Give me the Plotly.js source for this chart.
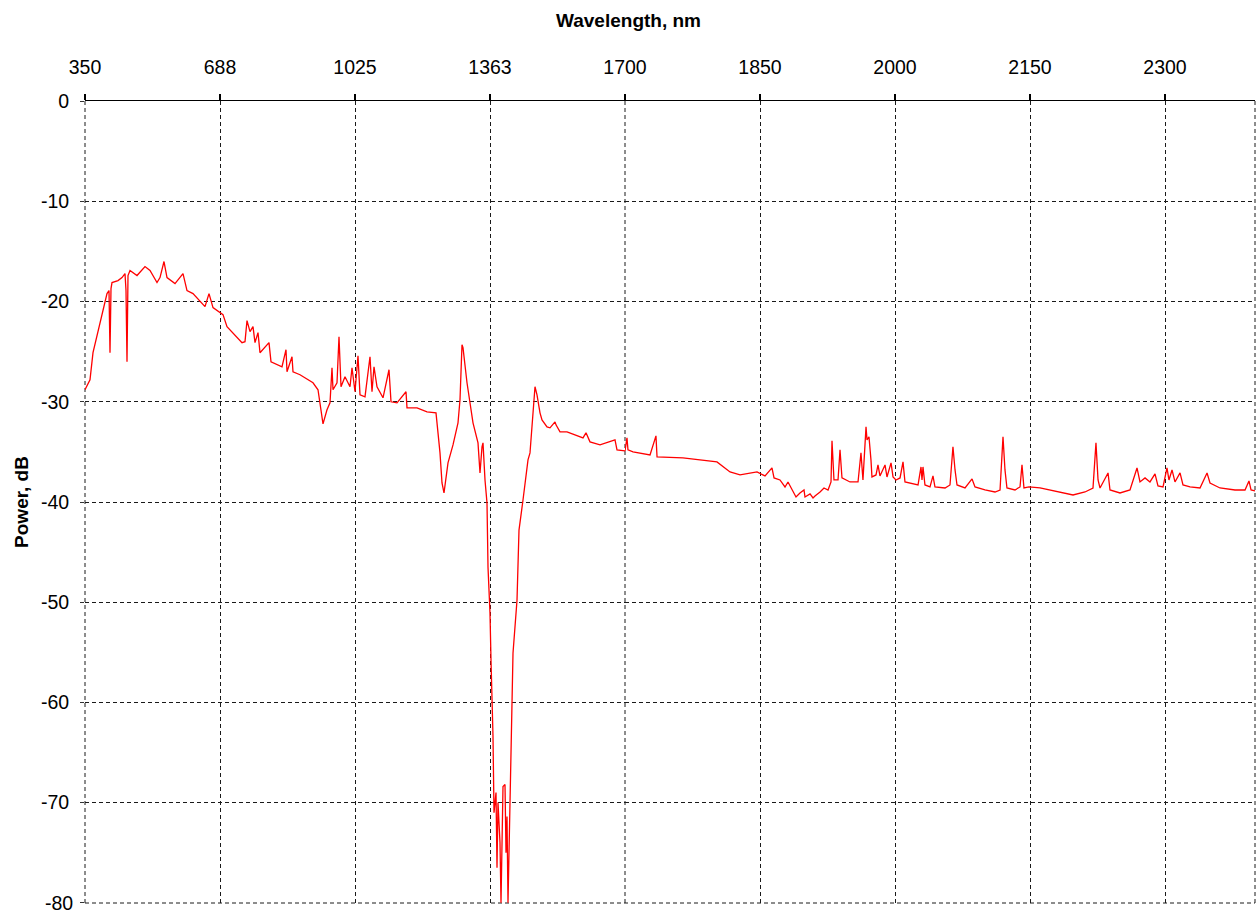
<!DOCTYPE html>
<html>
<head>
<meta charset="utf-8">
<script src="https://cdn.plot.ly/plotly-3.0.1.min.js"></script>
<style>html,body{margin:0;padding:0;background:#fff;}#chart{width:1257px;height:913px;}</style>
</head>
<body>
<div id="chart"></div>
<script>
// Wavelength (nm) and power (dB)
var wavelength = [350,362.5,370,387.5,400,405,410,412.5,415,417.5,432.5,442.5,450,452.5,455,457.5,462.5,480,500,512.5,530,537.5,547.5,555,575,595,605,620,650,660,670,695,705,742.5,750,755,762.5,770,775,782.5,787.5,810,815,842.5,852.5,855,867.5,870,887.5,920,932.5,945,955,962.5,967.5,970,980,985,990,1000,1012.5,1017.5,1025,1032.5,1037.5,1050,1062.5,1067.5,1072.5,1080,1095,1110,1115,1130,1152.5,1155,1180,1205,1227.5,1232.5,1237.5,1242.5,1247.5,1257.5,1270,1282.5,1287.5,1292.5,1295,1305,1320,1332.5,1337.5,1342.5,1345,1350,1355,1357.5,1362.5,1365,1370,1372.5,1377.5,1380,1382.5,1387.5,1390,1395,1400,1402.5,1405,1407.5,1412.5,1417.5,1420,1430,1435,1445,1457.5,1462.5,1467.5,1472.5,1475,1480,1487.5,1492.5,1505,1512.5,1525,1527.5,1537.5,1555,1595,1602.5,1612.5,1637.5,1675,1680,1700,
  1702.2,1703.3,1708.9,1727.8,1734.4,1735.6,1764.4,1783.3,1802.2,1816.7,1827.8,1846.7,1855.6,1863.3,1865.6,1872.2,1877.8,1881.1,1886.7,1890,1894.4,1898.9,1900,1905.6,1908.9,1911.1,1916.7,1921.1,1925.6,1928.9,1930,1932.2,1936.7,1938.9,1941.1,1950,1958.9,1962.2,1964.4,1967.8,1968.9,1971.1,1973.3,1974.4,1978.9,1981.1,1983.3,1988.9,1991.1,1995.6,1997.8,2001.1,2005.6,2008.9,2011.1,2018.9,2025.6,2028.9,2030,2031.1,2033.3,2038.9,2042.2,2044.4,2055.6,2061.1,2064.4,2066.7,2068.9,2077.8,2085.6,2088.9,2100,2111.1,2116.7,2120,2122.2,2124.4,2133.3,2138.9,2141.1,2143.3,2148.9,2161.1,2172.2,2183.3,2197.8,2211.1,2220,2223.3,2225.6,2227.8,2236.7,2238.9,2250,2261.1,2268.9,2272.2,2277.8,2283.3,2288.9,2292.2,2297.8,2302.2,2304.4,2307.8,2311.1,2316.7,2320,2327.8,2338.9,2346.7,2350,2361.1,2377.8,2388.9,2393.3,2395.6,2400];
var powerDb = [-28.8,-27.8,-25.1,-22.1,-19.8,-19.2,-18.9,-25.1,-18.7,-18.1,-17.9,-17.6,-17.2,-18.9,-26.0,-17.4,-16.9,-17.4,-16.5,-16.9,-18.1,-17.6,-16.0,-17.6,-18.2,-17.2,-18.9,-19.2,-20.5,-19.2,-20.6,-21.3,-22.5,-24.1,-24.0,-21.9,-23.0,-22.5,-24.1,-23.1,-25.1,-24.1,-26.0,-26.5,-24.8,-27.0,-25.5,-27.0,-27.3,-28.1,-28.8,-32.2,-30.8,-30.1,-26.6,-28.8,-28.1,-23.5,-28.5,-27.5,-28.5,-26.6,-29.0,-25.4,-29.3,-29.5,-25.5,-29.0,-26.5,-28.5,-29.6,-26.8,-30.0,-30.1,-29.0,-30.6,-30.6,-31.0,-31.1,-32.8,-35.1,-38.1,-39.1,-36.1,-34.3,-32.1,-29.8,-24.3,-24.6,-28.1,-32.1,-34.1,-37.1,-34.5,-34.1,-37.8,-40.1,-46.5,-51.1,-55.8,-63.4,-71.0,-69.0,-76.5,-70.0,-74.0,-80.0,-68.4,-68.2,-75.0,-71.4,-80.0,-69.0,-60.4,-55.1,-49.8,-42.8,-39.8,-35.8,-35.1,-32.5,-29.8,-28.5,-29.3,-31.1,-31.8,-32.5,-32.6,-32.0,-32.3,-33.0,-33.0,-33.6,-33.1,-34.0,-34.3,-33.8,-34.8,-34.9,
  -33.6,-34.8,-35.0,-35.3,-33.4,-35.5,-35.6,-35.8,-36.0,-37.0,-37.3,-37.0,-37.4,-36.6,-37.6,-37.8,-38.5,-38.0,-39.0,-39.5,-39.1,-38.8,-39.5,-39.2,-39.6,-39.4,-39.0,-38.6,-38.8,-38.0,-33.9,-37.8,-37.8,-34.8,-37.6,-38.0,-38.0,-35.1,-37.8,-32.5,-33.8,-33.5,-35.8,-37.5,-37.3,-36.3,-37.4,-36.3,-37.5,-36.1,-37.5,-37.8,-37.6,-36.0,-38.0,-38.2,-38.3,-36.5,-37.8,-36.5,-38.3,-38.5,-37.4,-38.5,-38.6,-38.3,-34.5,-36.8,-38.3,-38.6,-37.7,-38.5,-38.8,-39.0,-38.8,-33.5,-36.8,-38.6,-38.8,-38.5,-36.3,-38.6,-38.5,-38.6,-38.8,-39.0,-39.3,-39.0,-38.6,-34.1,-37.8,-38.6,-37.1,-38.8,-39.1,-38.8,-36.6,-38.0,-37.6,-38.0,-37.2,-38.4,-38.5,-36.6,-37.8,-36.8,-38.0,-37.1,-38.3,-38.5,-38.6,-37.1,-38.1,-38.6,-38.8,-38.8,-37.9,-38.8,-38.9];

// Instrument axis: two linear segments with equal tick spacing
var ticksLow = [350, 687.5, 1025, 1362.5, 1700];
var ticksLowText = ['350', '688', '1025', '1363', '1700'];
var ticksHigh = [1850, 2000, 2150, 2300];
var ticksHighText = ['1850', '2000', '2150', '2300'];
var powerTicks = [0, -10, -20, -30, -40, -50, -60, -70, -80];
var powerTickText = ['0', '-10', '-20', '-30', '-40', '-50', '-60', '-70', '-80'];
var breakNm = 1700;

var x1 = [], y1 = [], x2 = [], y2 = [];
for (var i = 0; i < wavelength.length; i++) {
  if (wavelength[i] <= breakNm) { x1.push(wavelength[i]); y1.push(powerDb[i]); }
  if (wavelength[i] >= breakNm) { x2.push(wavelength[i]); y2.push(powerDb[i]); }
}

var lineStyle = {color: '#ff0000', width: 1.3};
var traces = [
  {x: x1, y: y1, type: 'scatter', mode: 'lines', line: lineStyle, xaxis: 'x', yaxis: 'y', hoverinfo: 'skip'},
  {x: x2, y: y2, type: 'scatter', mode: 'lines', line: lineStyle, xaxis: 'x2', yaxis: 'y', hoverinfo: 'skip'}
];

var tickFont = {family: '"Liberation Sans", Arial, sans-serif', size: 19.5, color: '#000'};
var gridDash = '4px,3px';
var split = 540 / 1170;
var lastTick = powerTicks.length - 1;

// the bottom-edge tick label is dropped by Plotly (it overflows the figure), so draw it as an annotation
var yTickText = powerTickText.slice();
yTickText[lastTick] = '';

var commonX = {
  side: 'top', anchor: 'y', showline: true, linecolor: '#000', linewidth: 1.5,
  ticks: 'outside', ticklen: 6, tickwidth: 1.5, tickcolor: '#000',
  showgrid: true, gridcolor: '#1a1a1a', gridwidth: 1, griddash: gridDash,
  zeroline: false, tickmode: 'array', tickfont: tickFont, ticklabelstandoff: 12,
  fixedrange: true
};

var layout = {
  width: 1257, height: 913,
  paper_bgcolor: '#fff', plot_bgcolor: '#fff',
  margin: {l: 85, r: 2, t: 101, b: 10, pad: 0},
  showlegend: false,
  title: {text: 'Wavelength, nm', x: 0.5, xref: 'container', y: 1 - 20 / 913, yref: 'container', yanchor: 'middle', xanchor: 'center',
          font: {family: '"Liberation Sans", Arial, sans-serif', size: 19, color: '#000', weight: 'bold'}},
  xaxis: Object.assign({}, commonX, {domain: [0, split], range: [350, breakNm], tickvals: ticksLow, ticktext: ticksLowText}),
  xaxis2: Object.assign({}, commonX, {domain: [split, 1], range: [breakNm, 2400], tickvals: ticksHigh, ticktext: ticksHighText}),
  yaxis: {
    anchor: 'x', range: [-80.02, 0.02], tickmode: 'array', tickvals: powerTicks, ticktext: yTickText,
    showline: false, zeroline: false, ticks: 'outside', ticklen: 4, tickwidth: 1, tickcolor: '#333',
    showgrid: true, gridcolor: '#1a1a1a', gridwidth: 1, griddash: gridDash,
    tickfont: tickFont, ticklabelstandoff: 7, fixedrange: true,
    title: {text: 'Power, dB', standoff: 7, font: {family: '"Liberation Sans", Arial, sans-serif', size: 19, color: '#000', weight: 'bold'}}
  },
  annotations: [
    {xref: 'paper', yref: 'y', x: 0, y: powerTicks[lastTick], text: powerTickText[lastTick], showarrow: false,
     xanchor: 'right', yanchor: 'middle', xshift: -10, font: tickFont}
  ],
  shapes: [
    {type: 'line', xref: 'paper', yref: 'paper', x0: 0, x1: 0, y0: 0, y1: 1, layer: 'below', line: {color: '#1a1a1a', width: 1, dash: gridDash}},
    {type: 'line', xref: 'paper', yref: 'paper', x0: 1, x1: 1, y0: 0, y1: 1, layer: 'below', line: {color: '#1a1a1a', width: 1, dash: gridDash}},
    {type: 'line', xref: 'paper', yref: 'paper', x0: 0, x1: 1, y0: 0, y1: 0, layer: 'below', line: {color: '#1a1a1a', width: 1, dash: gridDash}},
    {type: 'line', xref: 'paper', yref: 'paper', x0: split, x1: split, y0: 0, y1: 1, layer: 'below', line: {color: '#1a1a1a', width: 1, dash: gridDash}}
  ]
};

Plotly.newPlot('chart', traces, layout, {staticPlot: true, displayModeBar: false});
</script>
</body>
</html>
